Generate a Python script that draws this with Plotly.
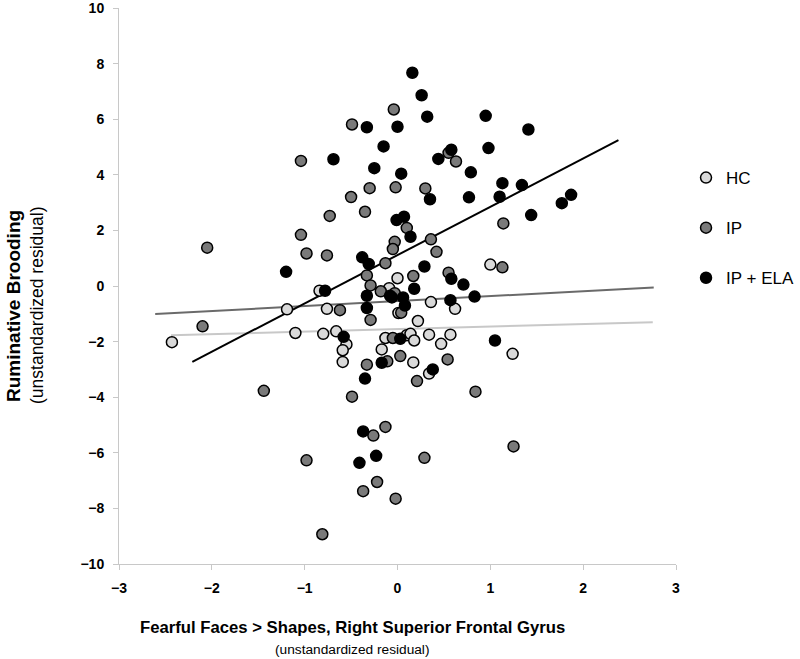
import plotly.graph_objects as go

# ---------------- data ----------------
hc_x = [0.00, 1.00, 0.36, 0.62, 0.22, 0.10, 0.14, 0.18, 0.34, 0.57, 0.47, 1.24, 0.17, 0.34,
        -0.09, -0.84, -1.19, -0.76, 0.01, -2.43, -1.10, -0.80, -0.66, -0.55, -0.59, -0.59,
        -0.13, -0.17]
hc_y = [0.28, 0.77, -0.58, -0.82, -1.26, -1.77, -1.72, -1.96, -1.75, -1.75, -2.08, -2.44, -2.75, -3.15,
        -0.08, -0.17, -0.84, -0.82, -0.97, -2.02, -1.69, -1.72, -1.63, -2.10, -2.31, -2.73,
        -1.87, -2.28]

ip_x = [-0.04, -0.49, -1.04, -0.30, -0.02, -0.50, 0.55, 0.63, 0.30, 1.14, 0.10, -0.03, -0.05,
        0.36, 0.42, 0.17, 0.55, 1.13, -0.03, 0.04, -0.05, 0.03, 0.54, 0.21, 0.84, -0.73, -0.35,
        -1.04, -2.05, -0.98, -0.76, -0.13, -0.33, -0.29, -0.18, -0.62, -0.29, -2.10, -0.11,
        -0.33, -1.44, -0.49, -0.26, -0.13, -0.98, -0.22, -0.37, -0.02, -0.81, 1.25, 0.29]
ip_y = [6.35, 5.81, 4.50, 3.52, 3.55, 3.20, 4.79, 4.48, 3.51, 2.25, 2.09, 1.59, 1.33,
        1.68, 1.23, 0.36, 0.48, 0.67, -0.26, -0.96, -1.87, -2.52, -2.64, -3.42, -3.80, 2.52, 2.67,
        1.84, 1.38, 1.17, 1.10, 0.82, 0.38, 0.02, -0.19, -0.87, -1.22, -1.45, -2.71,
        -2.83, -3.77, -3.98, -5.38, -5.07, -6.27, -7.05, -7.38, -7.65, -8.93, -5.77, -6.18]

ela_x = [-0.33, 0.00, -0.15, -0.69, -0.25, 0.04, 0.16, 0.26, 0.32, 0.95, 1.41, 0.58, 0.44, 0.98,
         0.79, 0.35, 0.77, 1.13, 1.34, 1.10, 1.87, 1.77, 1.44, -0.01, 0.07, 0.14, 0.29, 0.18,
         0.58, 0.71, 0.83, 0.06, 0.08, -0.06, 0.57, 0.03, 1.05, 0.38, -0.38, -0.31, -1.20,
         -0.08, -0.78, -0.33, -0.33, -0.58, -0.17, -0.35, -0.37, -0.23, -0.41]
ela_y = [5.71, 5.73, 5.02, 4.56, 4.24, 4.04, 7.67, 6.86, 6.09, 6.12, 5.63, 4.90, 4.57, 4.96,
         4.09, 3.12, 3.19, 3.70, 3.63, 3.21, 3.28, 2.98, 2.55, 2.37, 2.49, 1.77, 0.70, -0.10,
         0.26, 0.05, -0.38, -0.41, -0.70, -0.41, -0.51, -1.90, -1.96, -3.00, 1.03, 0.79, 0.51,
         -0.35, -0.17, -0.35, -0.79, -1.83, -2.76, -3.33, -5.23, -6.11, -6.36]

# trend lines (end points)
hc_fit_x = [-2.44, 2.75]
hc_fit_y = [-1.77, -1.30]
ip_fit_x = [-2.61, 2.76]
ip_fit_y = [-1.01, -0.05]
ela_fit_x = [-2.21, 2.38]
ela_fit_y = [-2.73, 5.25]

group_names = ["HC", "IP", "IP + ELA"]
x_ticks = [-3, -2, -1, 0, 1, 2, 3]
y_ticks = [-10, -8, -6, -4, -2, 0, 2, 4, 6, 8, 10]

x_title = "Fearful Faces &gt; Shapes, Right Superior Frontal Gyrus"
y_title = "Ruminative Brooding"
sub_title = "(unstandardized residual)"

# ---------------- styles ----------------
FONT = "Liberation Sans, Arial, sans-serif"
HC_COL = "#d9d9d9"
IP_COL = "#7a7a7a"
ELA_COL = "#000000"

fig = go.Figure()

# regression lines
for fx, fy, col in [(hc_fit_x, hc_fit_y, "#c8c8c8"),
                    (ip_fit_x, ip_fit_y, "#6a6a6a"),
                    (ela_fit_x, ela_fit_y, "#000000")]:
    fig.add_trace(go.Scatter(x=fx, y=fy, mode="lines", showlegend=False,
                             line=dict(color=col, width=2), hoverinfo="skip"))

for name, xs, ys, col in [(group_names[0], hc_x, hc_y, HC_COL),
                          (group_names[1], ip_x, ip_y, IP_COL),
                          (group_names[2], ela_x, ela_y, ELA_COL)]:
    fig.add_trace(go.Scatter(
        x=xs, y=ys, mode="markers", name=name, legendgroup=name,
        marker=dict(size=11, color=col, line=dict(color="#000000", width=1.5)),
    ))

axis_common = dict(
    showline=True, linecolor="#c8c8c8", linewidth=1,
    ticks="outside", ticklen=5, tickcolor="#c8c8c8", tickwidth=1,
    showgrid=False, zeroline=False, automargin=False,
    tickfont=dict(family=FONT, size=14, color="#000000", weight="bold"),
    ticklabelstandoff=6, ticklabeloverflow="allow",
)

PT, PB = 8, 564          # plot area top / bottom (px)
PL, PR = 119, 676        # plot area left / right (px)

fig.update_layout(
    width=800, height=659,
    paper_bgcolor="white", plot_bgcolor="white",
    margin=dict(l=PL, r=800 - PR, t=PT, b=659 - PB, autoexpand=False),
    xaxis=dict(range=[-3, 3], tickvals=x_ticks, **axis_common),
    yaxis=dict(range=[-10, 10], tickvals=y_ticks, **axis_common),
    font=dict(family=FONT, color="#000000"),
    legend=dict(x=1.018, y=(PB - 160) / (PB - PT), xanchor="left", yanchor="top",
                font=dict(family=FONT, size=17, color="#000000"),
                tracegroupgap=25, itemwidth=30, bgcolor="rgba(0,0,0,0)"),
    showlegend=True,
)

def px_x(p):
    return (p - PL) / (PR - PL)

def px_y(p):
    return (PB - p) / (PB - PT)

# axis titles
fig.add_annotation(xref="paper", yref="paper", x=px_x(352), y=px_y(627),
                   text="<b>" + x_title + "</b>", showarrow=False,
                   xanchor="center", yanchor="middle",
                   font=dict(family=FONT, size=16.7, color="#000000"))
fig.add_annotation(xref="paper", yref="paper", x=px_x(352), y=px_y(649),
                   text=sub_title, showarrow=False,
                   xanchor="center", yanchor="middle",
                   font=dict(family=FONT, size=13.7, color="#000000"))
fig.add_annotation(xref="paper", yref="paper", x=px_x(13), y=px_y(306),
                   text="<b>" + y_title + "</b>", showarrow=False, textangle=-90,
                   xanchor="center", yanchor="middle",
                   font=dict(family=FONT, size=19, color="#000000"))
fig.add_annotation(xref="paper", yref="paper", x=px_x(37), y=px_y(306),
                   text=sub_title, showarrow=False, textangle=-90,
                   xanchor="center", yanchor="middle",
                   font=dict(family=FONT, size=17.5, color="#000000"))

fig.write_html("out.html", config={"displayModeBar": False},
               post_script="document.body.style.margin='0px';")
